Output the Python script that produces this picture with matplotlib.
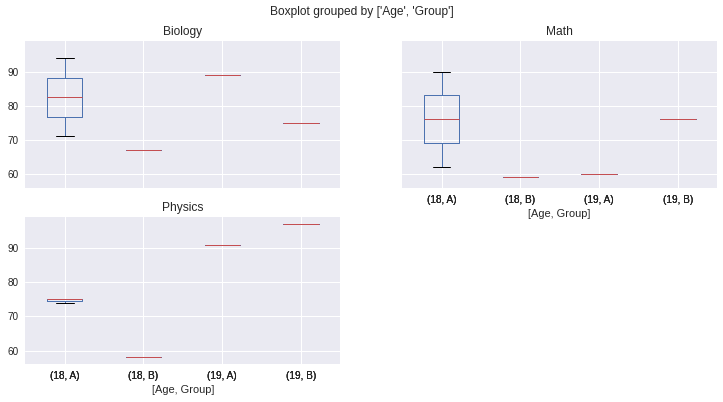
import matplotlib
matplotlib.use("Agg")
import matplotlib.pyplot as plt
import pandas as pd

# raw scores per student
ages = [18, 18, 18, 18, 19, 19]
groups = ["A", "A", "A", "B", "A", "B"]
biology = [71, 82.5, 94, 67, 89, 75]
math = [62, 76, 90, 59, 60, 76]
physics = [74, 75, 75, 58, 91, 97]

plt.style.use("seaborn-v0_8")

df = pd.DataFrame({"Age": ages, "Group": groups,
                   "Biology": biology, "Math": math, "Physics": physics})

axes = df.boxplot(column=["Biology", "Math", "Physics"], by=["Age", "Group"],
                  layout=(2, 2), figsize=(723 / 72, 402 / 72))
fig = plt.gcf()
fig.subplots_adjust(left=0.035, right=0.992, top=0.898, bottom=0.0945,
                    wspace=0.196, hspace=0.204)
fig.texts[0].set_y(0.985)

fig.savefig("out.png", dpi=72)
